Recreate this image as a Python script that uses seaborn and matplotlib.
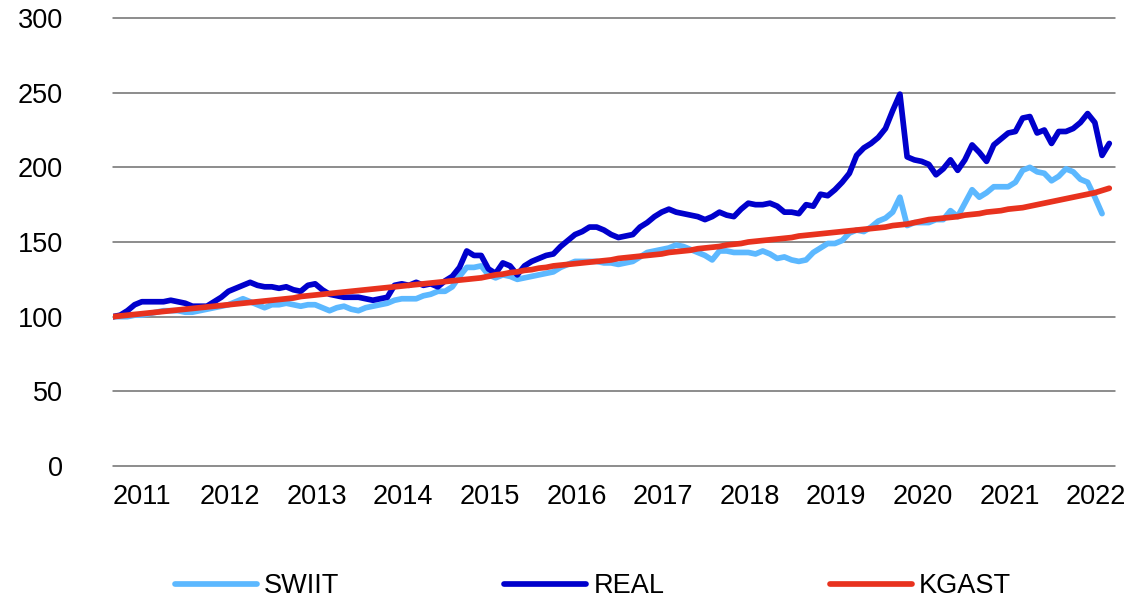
import matplotlib
matplotlib.use("Agg")
import matplotlib.pyplot as plt
import numpy as np
import pandas as pd
import seaborn as sns

# monthly index values, Jan 2011 = 100
YEARS = ["2011", "2012", "2013", "2014", "2015", "2016", "2017", "2018", "2019", "2020", "2021", "2022"]

SWIIT = [
    100, 100, 100, 101, 101, 102, 103, 104, 104, 104, 103, 103,
    104, 105, 106, 107, 108, 110, 112, 110, 108, 106, 108, 108,
    109, 108, 107, 108, 108, 106, 104, 106, 107, 105, 104, 106,
    107, 108, 109, 111, 112, 112, 112, 114, 115, 117, 117, 120,
    127, 133, 133, 134, 128, 126, 128, 127, 125, 126, 127, 128,
    129, 130, 133, 135, 137, 137, 137, 137, 136, 136, 135, 136,
    137, 140, 143, 144, 145, 146, 148, 147, 145, 143, 141, 138,
    144, 144, 143, 143, 143, 142, 144, 142, 139, 140, 138, 137,
    138, 143, 146, 149, 149, 151, 156, 158, 157, 160, 164, 166,
    170, 180, 161, 163, 163, 163, 165, 165, 171, 167, 176, 185,
    180, 183, 187, 187, 187, 190, 198, 200, 197, 196, 191, 194,
    199, 197, 192, 190, 180, 169,
]

REAL = [
    100, 101, 104, 108, 110, 110, 110, 110, 111, 110, 109, 107,
    107, 107, 110, 113, 117, 119, 121, 123, 121, 120, 120, 119,
    120, 118, 117, 121, 122, 118, 115, 114, 113, 113, 113, 112,
    111, 112, 113, 121, 122, 121, 123, 121, 122, 120, 124, 127,
    133, 144, 141, 141, 132, 129, 136, 134, 128, 134, 137, 139,
    141, 142, 147, 151, 155, 157, 160, 160, 158, 155, 153, 154,
    155, 160, 163, 167, 170, 172, 170, 169, 168, 167, 165, 167,
    170, 168, 167, 172, 176, 175, 175, 176, 174, 170, 170, 169,
    175, 174, 182, 181, 185, 190, 196, 208, 213, 216, 220, 226,
    238, 249, 207, 205, 204, 202, 195, 199, 205, 198, 205, 215,
    210, 204, 215, 219, 223, 224, 233, 234, 223, 225, 216, 224,
    224, 226, 230, 236, 230, 208, 216,
]

KGAST = [
    100, 100.5, 101, 101.5, 102, 102.5, 103, 103.5, 104, 104.5, 105, 105.5,
    106, 106.5, 107, 107.5, 108, 108.5, 109, 109.5, 110, 110.5, 111, 111.5,
    112, 112.5, 113.5, 114, 114.5, 115, 115.5, 116, 116.5, 117, 117.5, 118,
    118.5, 119, 119.5, 120, 120.5, 121, 121.5, 122, 122.5, 123, 123.5, 124,
    124.5, 125, 125.5, 126, 127, 128, 128.5, 129.5, 130, 131, 131.5, 132.5,
    133, 134, 134.5, 135, 135.5, 136, 136.5, 137, 137.5, 138, 139, 139.5,
    140, 140.5, 141, 141.5, 142, 143, 143.5, 144, 144.5, 145.5, 146, 146.5,
    147, 148, 148.5, 149, 150, 150.5, 151, 151.5, 152, 152.5, 153, 154,
    154.5, 155, 155.5, 156, 156.5, 157, 157.5, 158, 158.5, 159, 159.5, 160,
    161, 161.5, 162, 163, 164, 165, 165.5, 166, 166.5, 167, 168, 168.5,
    169, 170, 170.5, 171, 172, 172.5, 173, 174, 175, 176, 177, 178,
    179, 180, 181, 182, 183, 184.5, 186,
]

COLORS = {"SWIIT": "#5cb8ff", "REAL": "#0000cc", "KGAST": "#e8321e"}
FONT_SIZE = 19.5

sns.set_style("white")
plt.rcParams["font.family"] = ["Liberation Sans", "DejaVu Sans"]

fig = plt.figure(figsize=(11.31, 6.02), dpi=100)
ax = fig.add_axes([0.0999, 0.2259, 0.886, 0.7442])

for name, values in [("SWIIT", SWIIT), ("REAL", REAL), ("KGAST", KGAST)]:
    df = pd.DataFrame({"month": np.arange(len(values)), "value": values})
    sns.lineplot(data=df, x="month", y="value", ax=ax, color=COLORS[name],
                 linewidth=4.1, label=name, legend=False)

ax.set_xlim(0, 138.8)
ax.set_ylim(0, 300)
ax.set_yticks(range(0, 301, 50))
ax.set_xticks(np.arange(len(YEARS)) * 12)
ax.set_xticklabels(YEARS, ha="left")
ax.set_xlabel("")
ax.set_ylabel("")
ax.tick_params(axis="both", length=0, labelsize=FONT_SIZE, colors="black")
ax.tick_params(axis="y", pad=36)
ax.tick_params(axis="x", pad=13)

ax.yaxis.grid(True, color="#6e6e6e", linewidth=1.1)
ax.xaxis.grid(False)
ax.set_axisbelow(True)
for line in ax.get_ygridlines():
    line.set_clip_on(False)
for spine in ax.spines.values():
    spine.set_visible(False)

handles, labels = ax.get_legend_handles_labels()
fig.legend(handles, labels, loc="center", bbox_to_anchor=(0.524, 0.026),
           ncol=3, frameon=False, fontsize=FONT_SIZE, handlelength=3.03,
           handletextpad=0.26, columnspacing=6.1, labelcolor="black")

fig.savefig("out.png", dpi=100)
